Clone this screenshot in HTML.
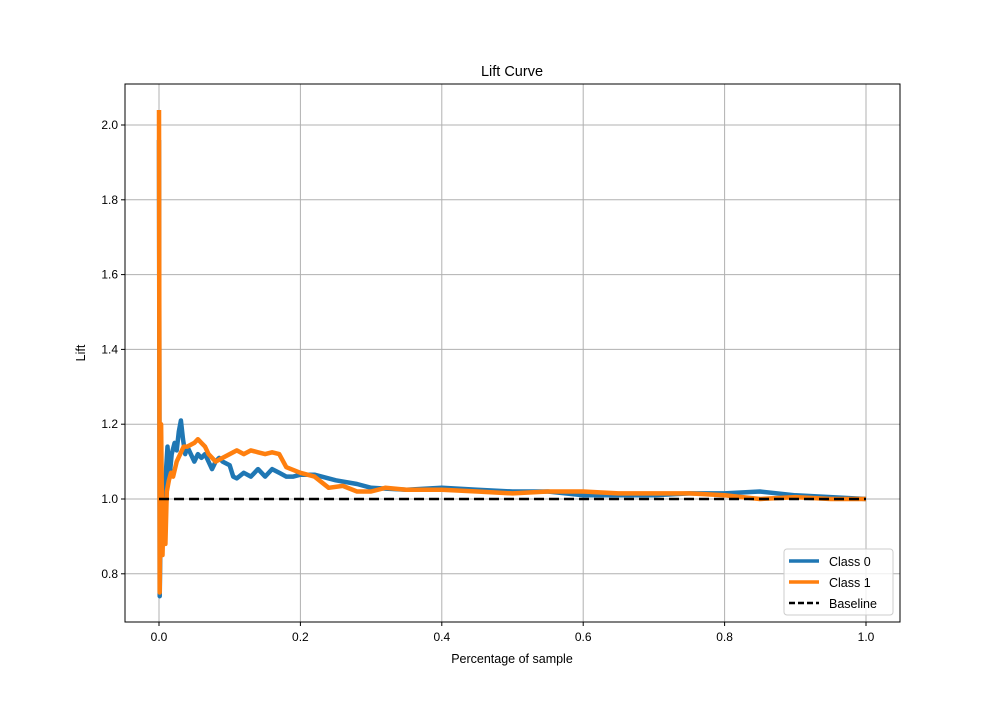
<!DOCTYPE html>
<html><head><meta charset="utf-8"><style>
body{margin:0;background:#fff}
svg text{font-family:"Liberation Sans","DejaVu Sans",sans-serif;fill:#000}
</style></head><body>
<svg id="c" width="1000" height="700"></svg>
<script>
const xTicks=[0,0.2,0.4,0.6,0.8,1.0];
const xTickLabels=["0.0","0.2","0.4","0.6","0.8","1.0"];
const yTicks=[0.8,1.0,1.2,1.4,1.6,1.8,2.0];
const yTickLabels=["0.8","1.0","1.2","1.4","1.6","1.8","2.0"];
const class0X=[0,0.001,0.003,0.005,0.008,0.01,0.012,0.015,0.018,0.022,0.025,0.028,0.031,0.034,0.037,0.04,0.045,0.05,0.055,0.06,0.065,0.07,0.075,0.08,0.085,0.09,0.1,0.105,0.11,0.12,0.13,0.14,0.15,0.16,0.17,0.18,0.19,0.2,0.22,0.25,0.28,0.3,0.35,0.4,0.45,0.5,0.55,0.6,0.65,0.7,0.75,0.8,0.85,0.9,0.95,1.0];
const class0Y=[1.96,0.74,1.0,0.9,1.0,1.08,1.14,1.06,1.12,1.15,1.13,1.18,1.21,1.16,1.12,1.14,1.12,1.10,1.12,1.11,1.12,1.10,1.08,1.10,1.11,1.10,1.09,1.06,1.055,1.07,1.06,1.08,1.06,1.08,1.07,1.06,1.06,1.065,1.065,1.05,1.04,1.03,1.025,1.03,1.025,1.02,1.02,1.01,1.01,1.01,1.015,1.015,1.02,1.01,1.005,1.0];
const class1X=[0,0.001,0.003,0.005,0.007,0.009,0.011,0.014,0.017,0.02,0.025,0.03,0.035,0.04,0.05,0.055,0.06,0.065,0.07,0.08,0.09,0.1,0.11,0.12,0.13,0.14,0.15,0.16,0.17,0.18,0.2,0.22,0.24,0.26,0.28,0.3,0.32,0.35,0.4,0.45,0.5,0.55,0.6,0.65,0.7,0.75,0.8,0.85,0.9,0.95,1.0];
const class1Y=[2.04,0.75,1.2,0.85,1.0,0.88,1.02,1.05,1.07,1.06,1.10,1.12,1.14,1.14,1.15,1.16,1.15,1.14,1.12,1.10,1.11,1.12,1.13,1.12,1.13,1.125,1.12,1.125,1.12,1.085,1.07,1.06,1.03,1.035,1.02,1.02,1.03,1.025,1.025,1.02,1.015,1.02,1.02,1.015,1.015,1.015,1.01,1.0,1.005,1.0,1.0];
const baselineX=[0,1];
const baselineY=[1,1];

const NS="http://www.w3.org/2000/svg";
const svg=document.getElementById('c');
const L=125,R=900,T=84,B=622;
const sx=v=>159+v*707;
const sy=v=>499-(v-1)*374;
function mk(t,a,p){const e=document.createElementNS(NS,t);for(const k in a)e.setAttribute(k,a[k]);(p||svg).appendChild(e);return e;}
xTicks.forEach((v,i)=>{
 const g=mk('line',{x1:sx(v),x2:sx(v),y1:T,y2:B,stroke:'#b0b0b0','stroke-width':1});
 
 
 mk('line',{x1:sx(v),x2:sx(v),y1:B,y2:B+4,stroke:'#000'});
 const t=mk('text',{x:sx(v),y:B+19,'text-anchor':'middle','font-size':12});
 t.textContent=xTickLabels[i];
 
 
});
yTicks.forEach((v,i)=>{
 const g=mk('line',{x1:L,x2:R,y1:sy(v),y2:sy(v),stroke:'#b0b0b0','stroke-width':1});
 
 
 mk('line',{x1:L-4,x2:L,y1:sy(v),y2:sy(v),stroke:'#000'});
 const t=mk('text',{x:L-7,y:sy(v)+4,'text-anchor':'end','font-size':12});
 t.textContent=yTickLabels[i];
 
 
});
function line(xs,ys,color,name,extra){
 const d=xs.map((x,i)=>(i?'L':'M')+sx(x).toFixed(1)+','+sy(ys[i]).toFixed(1)).join('');
 const p=mk('path',Object.assign({d:d,fill:'none',stroke:color,'stroke-width':4.5,'stroke-linejoin':'round'},extra||{}));
 
 
}
line(class0X,class0Y,'#1f77b4','class-0-line');
line(class1X,class1Y,'#ff7f0e','class-1-line');
line(baselineX,baselineY,'#000','baseline-line',{'stroke-width':2.5,'stroke-dasharray':'10,5'});
const fr=mk('rect',{x:L,y:T,width:R-L,height:B-T,fill:'none',stroke:'#000','stroke-width':1});


const ti=mk('text',{x:512,y:76,'text-anchor':'middle','font-size':14.5});ti.textContent='Lift Curve';


const xl=mk('text',{x:512,y:663,'text-anchor':'middle','font-size':12.5});xl.textContent='Percentage of sample';


const yl=mk('text',{x:85,y:353,'text-anchor':'middle','font-size':12.5,transform:'rotate(-90 85 353)'});yl.textContent='Lift';


const lg=mk('g',{});


mk('rect',{x:784,y:549,width:109,height:66,rx:3,fill:'#fff','fill-opacity':0.8,stroke:'#ccc'},lg);
[['Class 0','#1f77b4',''],['Class 1','#ff7f0e',''],['Baseline','#000','6,3']].forEach((e,i)=>{
 const y=561+i*21;
 const g=mk('g',{},lg);
 
 
 mk('line',{x1:789,x2:819,y1:y,y2:y,stroke:e[1],'stroke-width':e[2]?2.5:3.5,'stroke-dasharray':e[2]||'none'},g);
 const t=mk('text',{x:829,y:y+5,'font-size':12.5},g);t.textContent=e[0];
});
</script>
</body></html>
